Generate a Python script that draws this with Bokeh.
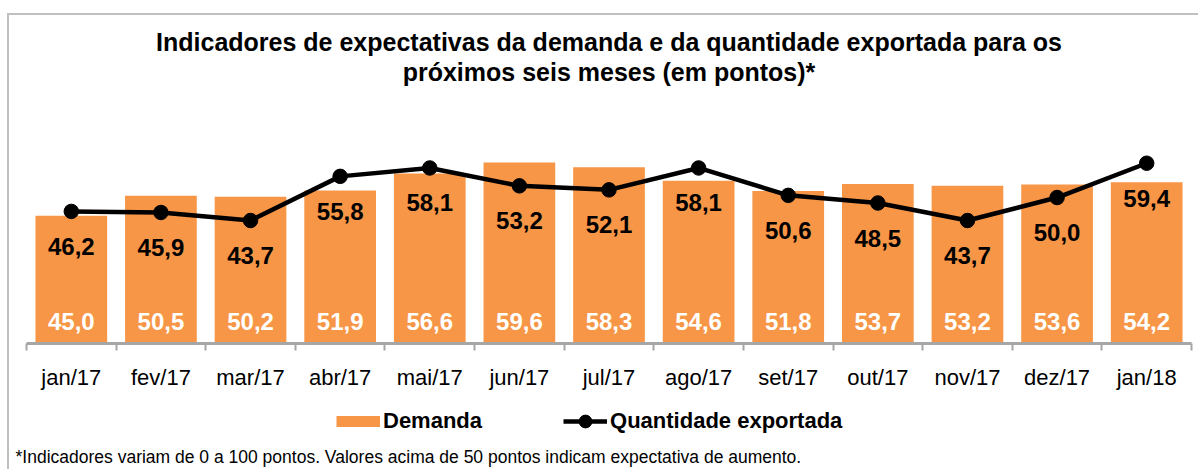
import numpy as np
from bokeh.plotting import figure
from bokeh.layouts import column
from bokeh.models import (Range1d, FixedTicker, Legend, LegendItem, ColumnDataSource, Title)
from bokeh.embed import file_html
from bokeh.resources import INLINE
from bokeh.core.properties import value

# ---------------- data ----------------
categories = ["jan/17", "fev/17", "mar/17", "abr/17", "mai/17", "jun/17", "jul/17",
              "ago/17", "set/17", "out/17", "nov/17", "dez/17", "jan/18"]
demanda = [45.0, 50.5, 50.2, 51.9, 56.6, 59.6, 58.3, 54.6, 51.8, 53.7, 53.2, 53.6, 54.2]
exportada = [46.2, 45.9, 43.7, 55.8, 58.1, 53.2, 52.1, 58.1, 50.6, 48.5, 43.7, 50.0, 59.4]
series_names = ["Demanda", "Quantidade exportada"]
title_lines = ["Indicadores de expectativas da demanda e da quantidade exportada para os",
               "próximos seis meses (em pontos)*"]
footnote = "*Indicadores variam de 0 a 100 pontos. Valores acima de 50 pontos indicam expectativa de aumento."

Y_MIN, Y_MAX = 10, 80.7
FONT = "Liberation Sans"
ORANGE = "#F79646"
GRAY = "#a6a6a6"
BORDER = "#c0c0c0"
W = 1189


def fmt(v):
    return f"{v:.1f}".replace(".", ",")


n = len(categories)
xs = np.arange(n) + 0.5
src = ColumnDataSource(dict(
    x=xs, cat=categories, dem=demanda, exp=exportada,
    dem_lbl=[fmt(v) for v in demanda], exp_lbl=[fmt(v) for v in exportada],
    base=[Y_MIN] * n,
))

# ---------------- main chart ----------------
p = figure(frame_width=1165, frame_height=258, x_range=Range1d(0, n),
           y_range=Range1d(Y_MIN, Y_MAX),
           output_backend="svg", toolbar_location=None, y_axis_location=None,
           min_border_left=17, min_border_right=7, min_border_top=70, min_border_bottom=50,
           background_fill_color="white", border_fill_color="white", outline_line_color=None)
p.grid.visible = False

bars = p.vbar(x="x", top="dem", bottom=Y_MIN, width=0.8, source=src,
              fill_color=ORANGE, line_color=None)
line_r = p.line("x", "exp", source=src, line_color="black", line_width=4.5)
dots = p.scatter("x", "exp", source=src, size=14.5, fill_color="black", line_color="black")

p.text(x="x", y="base", text="dem_lbl", source=src, text_color="white",
       text_font=value(FONT), text_font_style="bold", text_font_size="24px",
       text_align="center", text_baseline="middle", y_offset=-22)
p.text(x="x", y="exp", text="exp_lbl", source=src, text_color="black",
       text_font=value(FONT), text_font_style="bold", text_font_size="24px",
       text_align="center", text_baseline="middle", y_offset=35)

ax = p.xaxis[0]
ax.ticker = FixedTicker(ticks=list(xs), minor_ticks=list(range(n + 1)))
ax.major_label_overrides = {float(x): c for x, c in zip(xs, categories)}
ax.major_tick_line_color = None
ax.major_tick_out = 0
ax.major_tick_in = 0
ax.minor_tick_line_color = GRAY
ax.minor_tick_line_width = 2
ax.minor_tick_out = 7
ax.minor_tick_in = 0
ax.axis_line_color = GRAY
ax.axis_line_width = 3
ax.major_label_text_font = FONT
ax.major_label_text_font_size = "22px"
ax.major_label_text_color = "black"
ax.major_label_standoff = 14

# titles (second line added first: nearest to the frame)
for txt in (title_lines[1], title_lines[0]):
    p.add_layout(Title(text=txt, align="center", text_font=FONT, text_font_size="25px",
                       text_font_style="bold", text_color="black", standoff=0), "above")

# ---------------- legend + footnote strip ----------------
q = figure(width=W, height=76, x_range=Range1d(0, 1), y_range=Range1d(0, 1),
           output_backend="svg", toolbar_location=None, x_axis_location=None,
           y_axis_location=None, min_border_left=17, min_border_right=7,
           min_border_top=0, min_border_bottom=0, background_fill_color="white",
           border_fill_color="white", outline_line_color=None)
q.grid.visible = False
# legend keys (kept outside the visible range of this strip)
key_dem = q.line(x=[-2, -1], y=[-2, -2], line_color=ORANGE, line_width=11, line_cap="butt")
key_line = q.line(x=[-2, -1], y=[-2, -2], line_color="black", line_width=4.5)
key_dot = q.scatter(x=[-2], y=[-2], size=14.5, fill_color="black", line_color="black")

leg = Legend(items=[LegendItem(label=series_names[0], renderers=[key_dem]),
                    LegendItem(label=series_names[1], renderers=[key_line, key_dot])],
             orientation="horizontal", location=(310, 5), glyph_width=44, glyph_height=32,
             label_standoff=3, spacing=81, padding=0, margin=0, border_line_color=None,
             background_fill_alpha=0, label_text_font=FONT, label_text_font_style="bold",
             label_text_font_size="22px", label_text_color="black")
q.add_layout(leg)

q.add_layout(Title(text=footnote, align="left", offset=-11, text_font=FONT,
                   text_font_size="17.5px", text_font_style="normal", text_color="black",
                   standoff=5), "below")

layout = column(p, q, styles={"position": "relative", "left": "7px", "top": "13px",
                              "border-top": f"2px solid {BORDER}",
                              "border-left": f"2px solid {BORDER}"})

open("out.html", "w").write(file_html(layout, INLINE))
